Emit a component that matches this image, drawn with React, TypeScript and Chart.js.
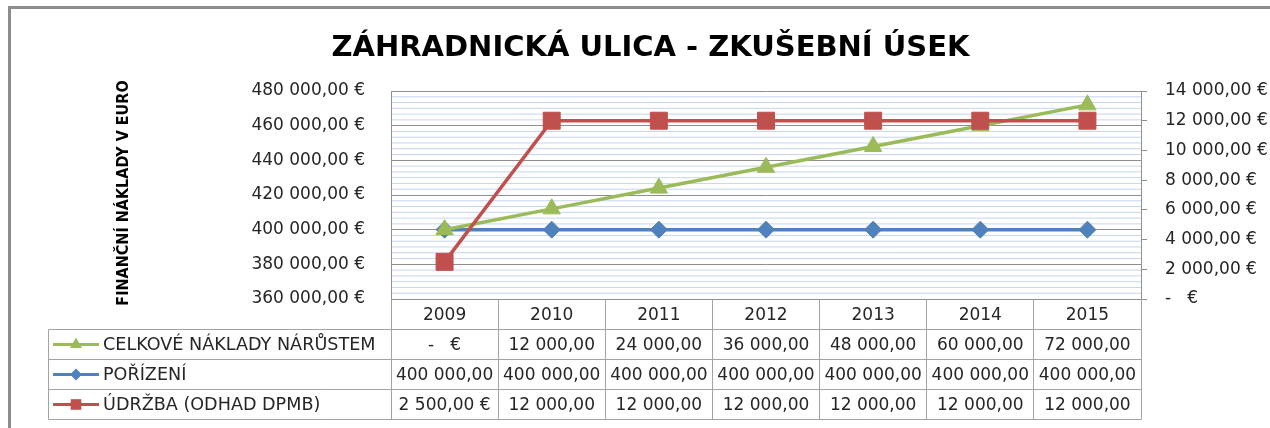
import React, { useEffect, useRef } from 'react';
import { Chart, registerables } from 'chart.js';

Chart.register(...registerables);

// ---------- data ----------
const TITLE = 'ZÁHRADNICKÁ ULICA - ZKUŠEBNÍ ÚSEK';
const Y_TITLE = 'FINANČNÍ NÁKLADY V EURO';
const years = ['2009', '2010', '2011', '2012', '2013', '2014', '2015'];
const seriesNames = ['CELKOVÉ NÁKLADY NÁRŮSTEM', 'POŘÍZENÍ', 'ÚDRŽBA (ODHAD DPMB)'];
const narustem = [0, 12000, 24000, 36000, 48000, 60000, 72000];
const porizeni = [400000, 400000, 400000, 400000, 400000, 400000, 400000];
const udrzba = [2500, 12000, 12000, 12000, 12000, 12000, 12000];
// first-year cell shown in currency format (per table row)
const currencyFirstCell = [true, false, true];
const leftAxisRange = [360000, 480000, 20000];
const rightAxisRange = [0, 14000, 2000];
const minorPerMajor = 6;

// plotted total = purchase + growth
const celkove = porizeni.map((p, i) => p + narustem[i]);

// ---------- styles ----------
const FONT = 'DejaVu Sans';
const COLORS = ['#9bbb59', '#4f81bd', '#c0504d'];
const GRID_MAJOR = '#8f8f8f';
const GRID_MINOR = '#c7d5ef';
const TABLE_LINE = '#a3a3a3';
const TEXT = '#262626';

function grouped(n: number): string {
  const [i, f] = n.toFixed(2).split('.');
  return i.replace(/\B(?=(\d{3})+(?!\d))/g, ' ') + ',' + f;
}
function currency(n: number): string {
  return n === 0 ? '-   €' : grouped(n) + ' €';
}

const framePlugin = {
  id: 'frameAndMinor',
  beforeDraw(chart: any) {
    const { ctx, chartArea: ca } = chart;
    ctx.save();
    ctx.fillStyle = '#ffffff';
    ctx.fillRect(0, 0, chart.width, chart.height);
    // outer frame (left + top)
    ctx.strokeStyle = '#8d8d8d';
    ctx.lineWidth = 3;
    ctx.beginPath();
    ctx.moveTo(9.5, chart.height);
    ctx.lineTo(9.5, 7.5);
    ctx.lineTo(chart.width, 7.5);
    ctx.stroke();
    // minor gridlines of the primary axis
    const y = chart.scales.y;
    const step = leftAxisRange[2] / minorPerMajor;
    const n = Math.round((leftAxisRange[1] - leftAxisRange[0]) / step);
    ctx.strokeStyle = GRID_MINOR;
    ctx.lineWidth = 1;
    for (let k = 1; k < n; k++) {
      if (k % minorPerMajor === 0) continue;
      const py = y.getPixelForValue(leftAxisRange[0] + k * step);
      ctx.beginPath();
      ctx.moveTo(ca.left, py);
      ctx.lineTo(ca.right, py);
      ctx.stroke();
    }
    ctx.restore();
  },
};

function drawMarker(ctx: CanvasRenderingContext2D, style: string, x: number, y: number, r: number) {
  ctx.beginPath();
  if (style === 'triangle') {
    ctx.moveTo(x, y - r);
    ctx.lineTo(x + r * 0.866, y + r * 0.5);
    ctx.lineTo(x - r * 0.866, y + r * 0.5);
    ctx.closePath();
  } else if (style === 'rectRot') {
    ctx.moveTo(x - r, y);
    ctx.lineTo(x, y - r);
    ctx.lineTo(x + r, y);
    ctx.lineTo(x, y + r);
    ctx.closePath();
  } else {
    const s = r * Math.SQRT1_2;
    ctx.rect(x - s, y - s, 2 * s, 2 * s);
  }
  ctx.fill();
}

const tablePlugin = {
  id: 'dataTable',
  afterDraw(chart: any) {
    const { ctx, chartArea: ca } = chart;
    const xs = chart.scales.x;
    const half = (xs.getPixelForValue(1) - xs.getPixelForValue(0)) / 2;
    const rowY = [0, 30.5, 60.5, 90.5, 120.5].map((d) => Math.round(ca.bottom) + d);
    const legendLeft = 48.5;
    const crisp = (v: number) => Math.floor(v) + 0.5;

    ctx.save();
    ctx.strokeStyle = TABLE_LINE;
    ctx.lineWidth = 1;
    // vertical lines
    for (let k = 0; k <= years.length; k++) {
      const x = k < years.length ? xs.getPixelForValue(k) - half : xs.getPixelForValue(years.length - 1) + half;
      ctx.beginPath();
      ctx.moveTo(crisp(x), rowY[0]);
      ctx.lineTo(crisp(x), rowY[4]);
      ctx.stroke();
    }
    ctx.beginPath();
    ctx.moveTo(legendLeft, rowY[1]);
    ctx.lineTo(legendLeft, rowY[4]);
    ctx.stroke();
    // horizontal lines
    for (let r = 1; r <= 4; r++) {
      ctx.beginPath();
      ctx.moveTo(legendLeft, rowY[r]);
      ctx.lineTo(crisp(ca.right), rowY[r]);
      ctx.stroke();
    }

    ctx.fillStyle = TEXT;
    ctx.font = `17px "${FONT}"`;
    ctx.textBaseline = 'middle';
    ctx.textAlign = 'center';
    // header
    years.forEach((yr, i) => {
      ctx.fillText(yr, xs.getPixelForValue(i), (rowY[0] + rowY[1]) / 2 + 1);
    });
    const rows = [narustem, porizeni, udrzba];
    const styles = ['triangle', 'rectRot', 'rect'];
    const keyR = [7, 6, 7.5];
    rows.forEach((vals, r) => {
      const cy = (rowY[r + 1] + rowY[r + 2]) / 2 + 1;
      ctx.fillStyle = TEXT;
      ctx.textAlign = 'center';
      ctx.font = `17px "${FONT}"`;
      vals.forEach((v, i) => {
        const label = currencyFirstCell[r] && i === 0 ? currency(v) : grouped(v);
        ctx.fillText(label, xs.getPixelForValue(i), cy);
      });
      // legend key
      const ky = cy - 1;
      ctx.strokeStyle = COLORS[r];
      ctx.lineWidth = 3;
      ctx.beginPath();
      ctx.moveTo(53, ky);
      ctx.lineTo(99, ky);
      ctx.stroke();
      ctx.fillStyle = COLORS[r];
      drawMarker(ctx, styles[r], 76, ky, keyR[r]);
      ctx.fillStyle = TEXT;
      ctx.textAlign = 'left';
      ctx.font = `17.6px "${FONT}"`;
      ctx.fillText(seriesNames[r], 103, cy);
    });

    // vertical axis title
    ctx.save();
    ctx.translate(124, 193);
    ctx.rotate(-Math.PI / 2);
    ctx.fillStyle = '#000000';
    ctx.font = `bold 16px "DejaVu Sans Condensed", "${FONT}"`;
    ctx.textAlign = 'center';
    ctx.textBaseline = 'middle';
    ctx.fillText(Y_TITLE, 0, 0);
    ctx.restore();
    ctx.restore();
  },
};

export default function App() {
  const ref = useRef<HTMLCanvasElement>(null);

  useEffect(() => {
    if (!ref.current) return;
    const chart = new Chart(ref.current, {
      type: 'line',
      data: {
        labels: years,
        datasets: [
          {
            label: seriesNames[2],
            data: udrzba,
            yAxisID: 'y1',
            borderColor: COLORS[2],
            backgroundColor: COLORS[2],
            pointBackgroundColor: COLORS[2],
            pointBorderColor: COLORS[2],
            pointStyle: 'rect',
            pointRadius: 12,
            pointBorderWidth: 1,
            borderWidth: 3.5,
            tension: 0,
            order: 0,
            clip: false,
          },
          {
            label: seriesNames[0],
            data: celkove,
            yAxisID: 'y',
            borderColor: COLORS[0],
            backgroundColor: COLORS[0],
            pointBackgroundColor: COLORS[0],
            pointBorderColor: COLORS[0],
            pointStyle: 'triangle',
            pointRadius: 10,
            pointBorderWidth: 1,
            borderWidth: 3.5,
            tension: 0,
            order: 1,
            clip: false,
          },
          {
            label: seriesNames[1],
            data: porizeni,
            yAxisID: 'y',
            borderColor: COLORS[1],
            backgroundColor: COLORS[1],
            pointBackgroundColor: COLORS[1],
            pointBorderColor: COLORS[1],
            pointStyle: 'rectRot',
            pointRadius: 8.5,
            pointBorderWidth: 1,
            borderWidth: 3.5,
            tension: 0,
            order: 2,
            clip: false,
          },
        ],
      },
      options: {
        responsive: false,
        animation: false,
        devicePixelRatio: 1,
        layout: { padding: { left: 31, right: 0, top: 0, bottom: 129 } },
        plugins: {
          legend: { display: false },
          tooltip: { enabled: false },
          title: {
            display: true,
            text: TITLE,
            color: '#000000',
            font: { family: FONT, size: 29, weight: 'bold' },
            padding: { top: 31.5, bottom: 24.7 },
          },
        },
        scales: {
          x: {
            type: 'category',
            offset: true,
            grid: { display: false, drawTicks: false },
            ticks: { display: false },
            border: { display: true, color: GRID_MAJOR },
            afterFit: (s: any) => {
              s.height = 0;
            },
          },
          y: {
            position: 'left',
            min: leftAxisRange[0],
            max: leftAxisRange[1],
            ticks: {
              stepSize: leftAxisRange[2],
              callback: (v: any) => currency(Number(v)),
              font: { family: FONT, size: 17 },
              color: TEXT,
              padding: 26,
            },
            grid: { color: GRID_MAJOR, drawTicks: false },
            border: { display: true, color: GRID_MAJOR },
            afterFit: (s: any) => {
              s.width = 360;
            },
          },
          y1: {
            position: 'right',
            min: rightAxisRange[0],
            max: rightAxisRange[1],
            ticks: {
              stepSize: rightAxisRange[2],
              callback: (v: any) => currency(Number(v)),
              font: { family: FONT, size: 17 },
              color: TEXT,
              padding: 18,
            },
            grid: { drawOnChartArea: false, drawTicks: true, tickLength: 6, color: GRID_MAJOR },
            border: { display: true, color: GRID_MAJOR },
            afterFit: (s: any) => {
              s.width = 129;
            },
          },
        },
      } as any,
      plugins: [framePlugin, tablePlugin],
    });
    return () => chart.destroy();
  }, []);

  return (
    <div style={{ position: 'absolute', left: 0, top: 0, width: 1270, height: 428 }}>
      <canvas ref={ref} width={1270} height={428} style={{ display: 'block', width: 1270, height: 428 }} />
    </div>
  );
}
